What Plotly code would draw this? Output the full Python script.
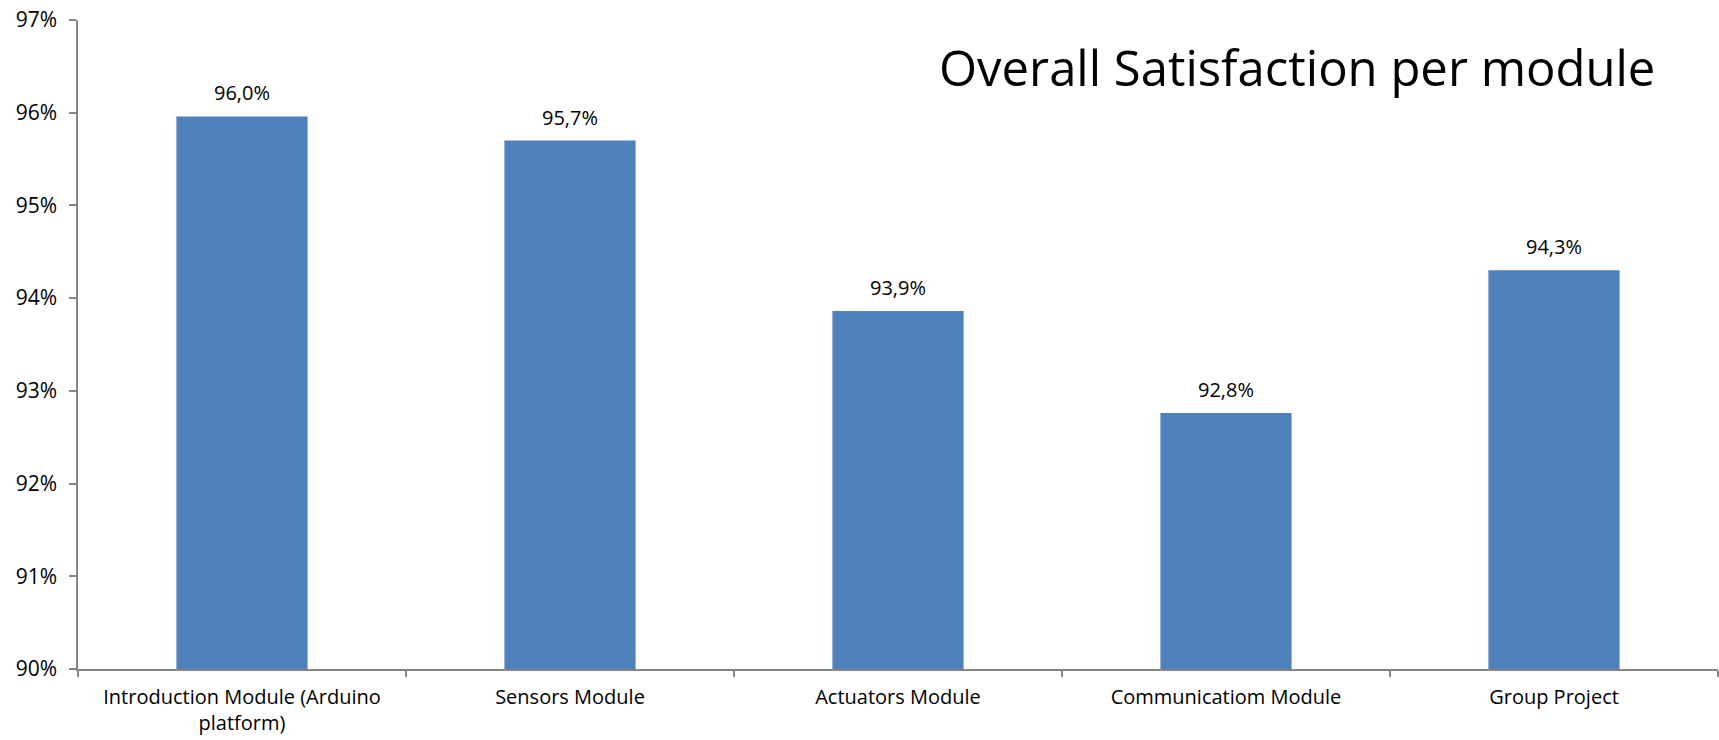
import plotly.graph_objects as go

categories = ["Introduction Module (Arduino<br>platform)", "Sensors Module",
              "Actuators Module", "Communicatiom Module", "Group Project"]
values = [95.96, 95.70, 93.86, 92.76, 94.30]
y_ticks = [90, 91, 92, 93, 94, 95, 96, 97]
y_tick_labels = [f"{v}%" for v in y_ticks]
value_labels = [f"{v:.1f}%".replace(".", ",") for v in values]

FONT = "Open Sans"

fig = go.Figure()
fig.add_trace(go.Bar(
    x=categories, y=values,
    marker=dict(color="#4F81BD", line=dict(width=0)),
    width=0.4,
))

for c, v, t in zip(categories, values, value_labels):
    fig.add_annotation(x=c, y=v, text=t, showarrow=False, yanchor="bottom",
                       yshift=8, font=dict(family=FONT, size=20, color="#000000"))

fig.add_annotation(xref="paper", yref="paper", x=0.524, y=1.0, xanchor="left",
                   yanchor="top", yshift=-12,
                   text="Overall Satisfaction per module", showarrow=False,
                   font=dict(family=FONT, size=49, color="#000000"))

fig.update_layout(
    width=1719, height=740,
    margin=dict(l=78, r=1, t=20, b=71),
    plot_bgcolor="white", paper_bgcolor="white",
    showlegend=False,
    font=dict(family=FONT, size=20, color="#000000"),
)
fig.update_xaxes(
    showline=True, linecolor="#868686", linewidth=1.5,
    ticks="outside", tickson="boundaries", ticklen=6, tickcolor="#868686", tickwidth=1.5,
    showgrid=False, tickfont=dict(family=FONT, size=20, color="#000000"),
    ticklabelstandoff=9,
)
fig.update_yaxes(
    range=[90, 97], tickvals=y_ticks, ticktext=y_tick_labels,
    showline=True, linecolor="#868686", linewidth=1.5,
    ticks="outside", ticklen=7, tickcolor="#868686", tickwidth=1.5,
    showgrid=False, zeroline=False, tickfont=dict(family=FONT, size=21, color="#000000"),
    ticklabelstandoff=8,
)

fig.write_html("out.html")
